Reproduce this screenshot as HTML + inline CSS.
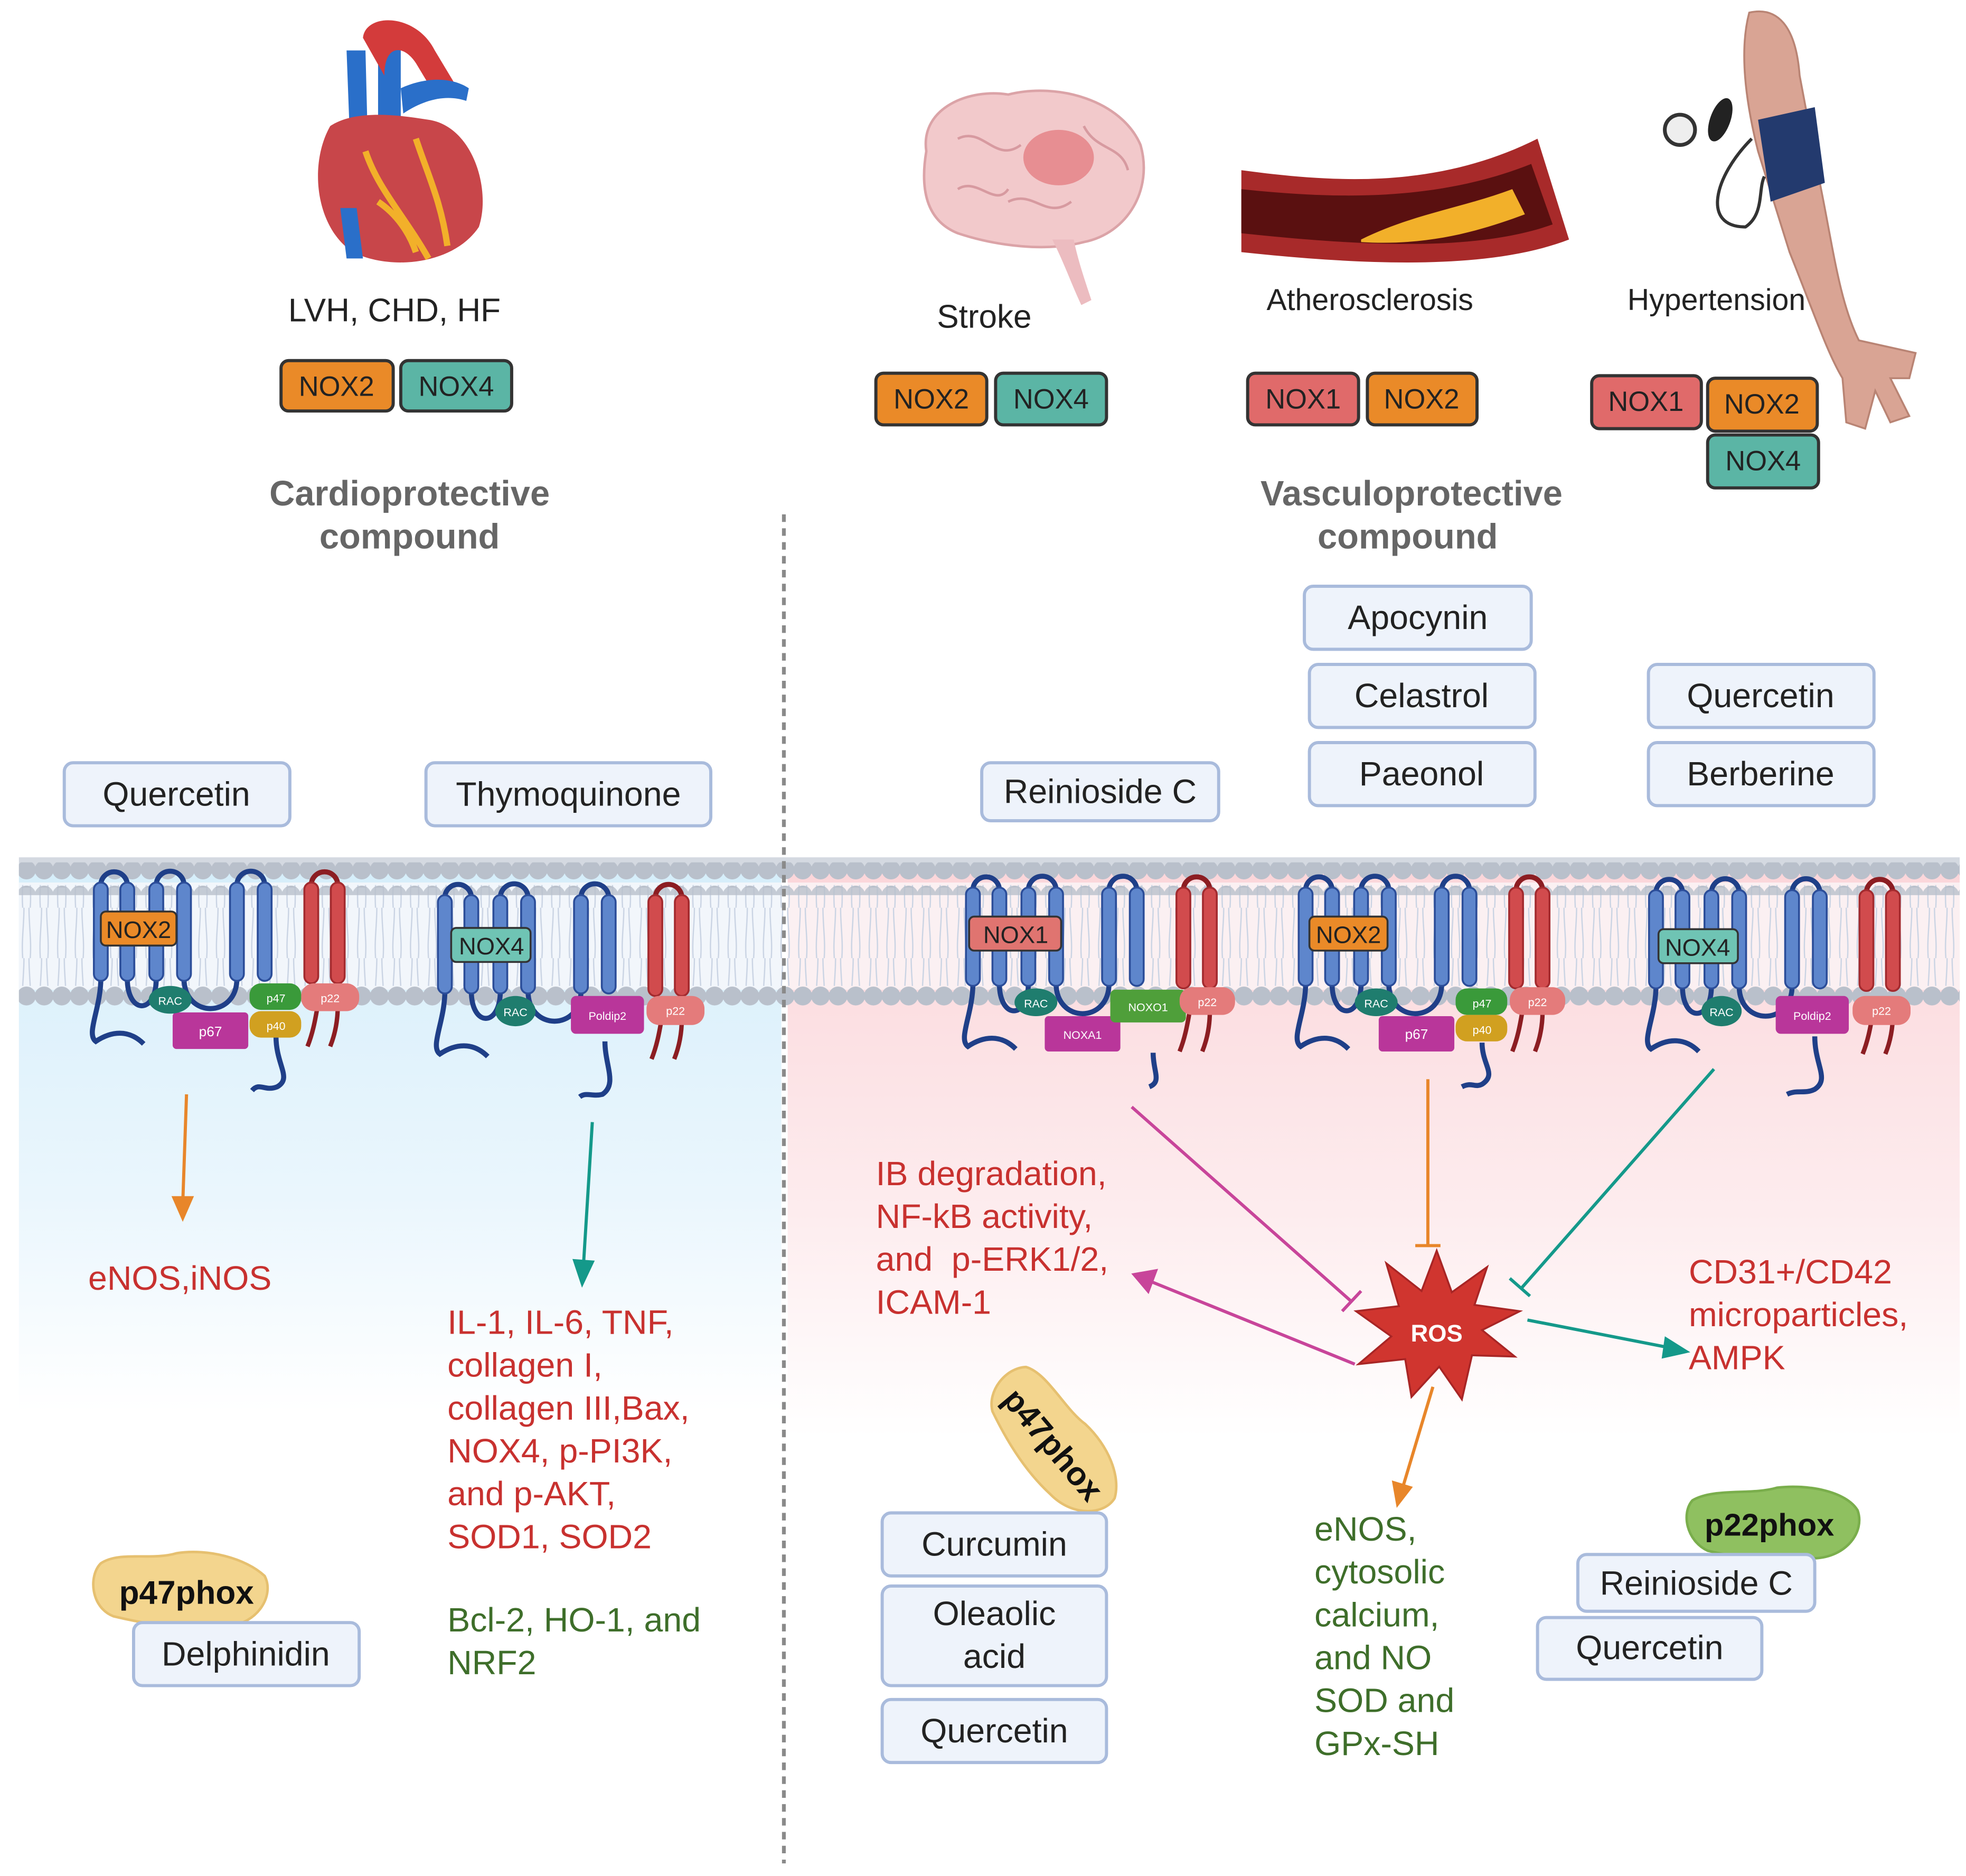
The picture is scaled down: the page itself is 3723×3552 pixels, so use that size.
<!DOCTYPE html>
<html><head><meta charset="utf-8"><style>
html,body{margin:0;padding:0;background:#fff;}
svg{display:block;}
text{font-family:"Liberation Sans",sans-serif;}
</style></head><body>
<svg width="3723" height="3552" viewBox="0 0 1560 1488" preserveAspectRatio="none" xmlns="http://www.w3.org/2000/svg">
<defs>
<linearGradient id="gb" x1="0" y1="0" x2="0" y2="1"><stop offset="0" stop-color="#d6eefa"/><stop offset="0.6" stop-color="#eaf6fd"/><stop offset="1" stop-color="#ffffff"/></linearGradient>
<linearGradient id="gp" x1="0" y1="0" x2="0" y2="1"><stop offset="0" stop-color="#fbd6da"/><stop offset="0.6" stop-color="#fdecee"/><stop offset="1" stop-color="#ffffff"/></linearGradient>
<pattern id="heads" x="0" y="0" width="14" height="20" patternUnits="userSpaceOnUse"><circle cx="7" cy="10" r="7.5" fill="#b9c0cb"/></pattern>
<pattern id="tails" x="0" y="0" width="14" height="40" patternUnits="userSpaceOnUse"><path d="M5,0 C5,15 3,25 4,40 M9,0 C9,15 11,25 10,40" stroke="#c9d3e3" stroke-width="1" fill="none"/></pattern>
<g id="nox">
 <path d="M0,776 V702 A10.5,10.5 0 0 1 21,702 V776 M44,776 V702 A11,11 0 0 1 66,702 V776 M108,776 V702 A11,11 0 0 1 130,702 V776 M21,776 C21,805 44,805 44,776 M66,776 C66,808 108,808 108,776 M0,776 C0,800 -12,820 -4,826 C8,818 22,816 34,828" stroke="#1f3f88" stroke-width="4" fill="none"/>
 <g stroke="#2b4d99" stroke-width="1.5" fill="#5e86cc">
  <rect x="-5.5" y="700" width="11" height="78" rx="5.5"/><rect x="15.5" y="700" width="11" height="78" rx="5.5"/>
  <rect x="38.5" y="700" width="11" height="78" rx="5.5"/><rect x="60.5" y="700" width="11" height="78" rx="5.5"/>
  <rect x="102.5" y="700" width="11" height="78" rx="5.5"/><rect x="124.5" y="700" width="11" height="78" rx="5.5"/>
 </g>
 <path d="M167,776 V702 A10.5,10.5 0 0 1 188,702 V776" stroke="#8c1d22" stroke-width="4" fill="none"/>
 <path d="M172,798 C170,810 168,820 164,830 M188,798 C188,810 186,820 182,830" stroke="#8c1d22" stroke-width="3.5" fill="none"/>
 <g stroke="#a32a2e" stroke-width="1.5" fill="#d14b4d"><rect x="161.5" y="700" width="11" height="80" rx="5.5"/><rect x="182.5" y="700" width="11" height="80" rx="5.5"/></g>
</g>
</defs>

<!-- backgrounds -->
<rect x="15" y="690" width="605" height="430" fill="url(#gb)"/>
<rect x="625" y="690" width="930" height="450" fill="url(#gp)"/>
<!-- membrane -->
<rect x="15" y="700" width="605" height="85" fill="#f2f6fb"/>
<rect x="625" y="700" width="930" height="85" fill="#fbf0f2"/>
<rect x="15" y="702" width="1540" height="80" fill="url(#tails)"/>
<rect x="15" y="680" width="1540" height="12" fill="#d4d9e1"/>
<rect x="15" y="684" width="1540" height="20" fill="url(#heads)"/>
<rect x="15" y="696" width="1540" height="14" fill="url(#heads)" opacity="0.8"/>
<rect x="15" y="778" width="1540" height="20" fill="url(#heads)"/>

<line x1="622" y1="408" x2="622" y2="1478" stroke="#8a8a8a" stroke-width="3" stroke-dasharray="6,5"/>

<!-- complexes -->
<use href="#nox" transform="translate(80,0)"/>
<use href="#nox" transform="translate(353,10)"/>
<use href="#nox" transform="translate(772,4)"/>
<use href="#nox" transform="translate(1036,4)"/>
<use href="#nox" transform="translate(1314,6)"/>

<g font-size="9" fill="#fff" text-anchor="middle">
<!-- complex 1 -->
<path d="M219,822 C219,845 232,855 220,862 C210,866 206,858 200,865" stroke="#1f3f88" stroke-width="4" fill="none"/>
<rect x="137" y="803" width="60" height="29" rx="3" fill="#b9369a"/><text x="167" y="822" font-size="11">p67</text>
<ellipse cx="135" cy="793" rx="17" ry="11" fill="#1f7d6e"/><text x="135" y="797">RAC</text>
<rect x="198" y="780" width="41" height="21" rx="9" fill="#3a9a3a"/><text x="219" y="795">p47</text>
<rect x="198" y="802" width="41" height="21" rx="9" fill="#d1a020"/><text x="219" y="817">p40</text>
<rect x="239" y="780" width="46" height="22" rx="10" fill="#e47b7b"/><text x="262" y="795">p22</text>
<rect x="80" y="723" width="60" height="27" rx="4" fill="#ea8a28" stroke="#333" stroke-width="1.5"/><text x="110" y="744" font-size="19" fill="#222">NOX2</text>
<!-- complex 2 -->
<path d="M480,826 C480,845 490,860 478,868 C470,870 465,866 460,870" stroke="#1f3f88" stroke-width="4" fill="none"/>
<ellipse cx="409" cy="802" rx="16" ry="12" fill="#1f7d6e"/><text x="409" y="806">RAC</text>
<rect x="453" y="790" width="58" height="30" rx="4" fill="#b9369a"/><text x="482" y="809">Poldip2</text>
<rect x="513" y="790" width="46" height="23" rx="10" fill="#e47b7b"/><text x="536" y="805">p22</text>
<rect x="358" y="736" width="63" height="27" rx="4" fill="#6fc4b4" stroke="#333" stroke-width="1.5"/><text x="390" y="757" font-size="19" fill="#222">NOX4</text>
<!-- complex 3 NOX1 -->
<path d="M915,835 C915,850 922,858 912,862" stroke="#1f3f88" stroke-width="4" fill="none"/>
<ellipse cx="822" cy="795" rx="17" ry="11" fill="#1f7d6e"/><text x="822" y="799">RAC</text>
<rect x="829" y="806" width="60" height="28" rx="3" fill="#b9369a"/><text x="859" y="824">NOXA1</text>
<rect x="881" y="785" width="60" height="26" rx="4" fill="#4f9f3a"/><text x="911" y="802">NOXO1</text>
<rect x="936" y="783" width="44" height="22" rx="10" fill="#e47b7b"/><text x="958" y="798">p22</text>
<rect x="769" y="727" width="73" height="27" rx="4" fill="#e07470" stroke="#333" stroke-width="1.5"/><text x="806" y="748" font-size="19" fill="#222">NOX1</text>
<!-- complex 4 NOX2 -->
<path d="M1176,827 C1176,845 1188,852 1176,860 C1170,863 1168,858 1160,862" stroke="#1f3f88" stroke-width="4" fill="none"/>
<ellipse cx="1092" cy="795" rx="17" ry="11" fill="#1f7d6e"/><text x="1092" y="799">RAC</text>
<rect x="1094" y="806" width="60" height="28" rx="3" fill="#b9369a"/><text x="1124" y="824" font-size="11">p67</text>
<rect x="1155" y="784" width="41" height="21" rx="9" fill="#3a9a3a"/><text x="1176" y="799">p47</text>
<rect x="1155" y="805" width="41" height="21" rx="9" fill="#d1a020"/><text x="1176" y="820">p40</text>
<rect x="1198" y="783" width="44" height="22" rx="10" fill="#e47b7b"/><text x="1220" y="798">p22</text>
<rect x="1039" y="727" width="62" height="27" rx="4" fill="#ea8a28" stroke="#333" stroke-width="1.5"/><text x="1070" y="748" font-size="19" fill="#222">NOX2</text>
<!-- complex 5 NOX4 -->
<path d="M1440,822 C1440,845 1452,856 1440,864 C1432,868 1426,864 1418,868" stroke="#1f3f88" stroke-width="4" fill="none"/>
<ellipse cx="1366" cy="802" rx="16" ry="12" fill="#1f7d6e"/><text x="1366" y="806">RAC</text>
<rect x="1409" y="790" width="58" height="30" rx="4" fill="#b9369a"/><text x="1438" y="809">Poldip2</text>
<rect x="1470" y="790" width="46" height="23" rx="10" fill="#e47b7b"/><text x="1493" y="805">p22</text>
<rect x="1316" y="737" width="63" height="27" rx="4" fill="#6fc4b4" stroke="#333" stroke-width="1.5"/><text x="1347" y="758" font-size="19" fill="#222">NOX4</text>
</g>

<!-- arrows -->
<g fill="none" stroke-width="2.5">
<path d="M148,868 L145,955" stroke="#e8862a"/><path d="M138,950 L145,966 L152,950 Z" fill="#e8862a" stroke="#e8862a"/>
<path d="M470,890 L463,1003" stroke="#14998a"/><path d="M456,1000 L462,1018 L470,1001 Z" fill="#14998a" stroke="#14998a"/>
<path d="M898,878 L1072,1032 M1065,1040 L1080,1024" stroke="#c8459a"/>
<path d="M1133,856 L1133,988 M1123,988 L1143,988" stroke="#e8862a"/>
<path d="M1360,848 L1207,1022 M1198,1014 L1214,1028" stroke="#14998a"/>
<path d="M1075,1082 L912,1016" stroke="#c8459a"/><path d="M900,1011 L917,1008 L911,1024 Z" fill="#c8459a" stroke="#c8459a"/>
<path d="M1212,1047 L1325,1069" stroke="#14998a"/><path d="M1338,1072 L1322,1062 L1320,1076 Z" fill="#14998a" stroke="#14998a"/>
<path d="M1137,1100 L1113,1180" stroke="#e8862a"/><path d="M1109,1193 L1106,1176 L1119,1180 Z" fill="#e8862a" stroke="#e8862a"/>
</g>
<!-- ROS star -->
<polygon points="1140,992 1152,1025 1180,1005 1170,1035 1206,1040 1176,1055 1202,1076 1168,1075 1160,1110 1142,1084 1120,1108 1115,1078 1078,1082 1104,1060 1076,1040 1110,1036 1100,1002 1128,1024" fill="#d0352f" stroke="#a82525" stroke-width="1.5"/>
<text x="1140" y="1064" font-size="19" font-weight="bold" fill="#fff" text-anchor="middle">ROS</text>

<!-- illustrations -->
<!-- heart -->
<g>
<path d="M300,20 L300,100 L318,100 L318,20 Z" fill="#2a6fc9"/>
<path d="M288,30 C290,10 330,10 345,40 L360,65 L345,75 L330,50 C320,35 305,35 305,60 Z" fill="#d33b3b"/>
<path d="M275,40 L278,120 L292,120 L290,40 Z" fill="#2a6fc9"/>
<path d="M318,70 C340,60 360,62 372,70 L370,80 C355,75 338,78 320,90 Z" fill="#2a6fc9"/>
<path d="M262,100 C245,130 250,180 280,200 C310,215 360,210 380,180 C390,150 375,100 340,95 C310,90 280,88 262,100 Z" fill="#c8464a"/>
<path d="M290,120 C300,150 320,170 340,205 M330,110 C340,140 350,160 355,195 M300,160 C315,170 325,185 330,200" stroke="#f2b02a" stroke-width="5" fill="none"/>
<path d="M270,165 L275,205 L288,205 L283,165 Z" fill="#2a6fc9"/>
</g>
<!-- brain -->
<g>
<path d="M735,120 C730,85 770,70 800,75 C840,65 890,80 905,115 C915,150 895,185 860,192 C830,200 790,195 760,185 C735,175 730,150 735,120 Z" fill="#f2c9cb" stroke="#dba3a7" stroke-width="2"/>
<ellipse cx="840" cy="125" rx="28" ry="22" fill="#e0676d" opacity="0.6"/>
<path d="M760,110 C780,100 790,130 810,115 M800,160 C820,150 830,175 850,160 M860,100 C870,120 890,115 895,135 M760,150 C775,140 790,165 800,150" stroke="#d79aa0" stroke-width="2" fill="none"/>
<path d="M835,190 C845,210 850,225 858,242 L866,238 C860,220 855,205 852,190 Z" fill="#ecbcc0"/>
</g>
<!-- artery -->
<g>
<path d="M985,135 C1060,145 1140,150 1220,110 L1245,190 C1180,215 1080,210 985,200 Z" fill="#a82a2a"/>
<path d="M985,150 C1060,158 1140,160 1215,130 L1232,178 C1170,200 1080,195 985,185 Z" fill="#5a1010"/>
<path d="M1080,190 C1120,170 1160,165 1200,150 L1210,170 C1170,185 1130,195 1080,192 Z" fill="#f2b02a"/>
</g>
<!-- arm -->
<g>
<path d="M1388,10 C1410,5 1425,20 1428,60 L1445,150 C1455,200 1460,240 1475,270 L1520,280 L1515,300 L1500,300 L1515,330 L1500,335 L1488,310 L1480,340 L1465,335 L1462,300 C1450,280 1440,250 1420,200 L1395,120 C1385,80 1380,40 1388,10 Z" fill="#d9a494" stroke="#b98474" stroke-width="1.5"/>
<path d="M1395,95 L1440,85 L1448,145 L1405,160 Z" fill="#233a6e"/>
<path d="M1390,110 C1360,140 1350,180 1385,180 C1400,170 1395,150 1400,140" stroke="#333" stroke-width="2.5" fill="none"/>
<circle cx="1333" cy="103" r="12" fill="#eee" stroke="#333" stroke-width="3"/>
<ellipse cx="1365" cy="95" rx="8" ry="18" fill="#222" transform="rotate(20 1365 95)"/>
</g>

<!-- top labels -->
<g font-size="26" fill="#222" text-anchor="middle">
<text x="313" y="255">LVH, CHD, HF</text>
<text x="781" y="260">Stroke</text>
<text x="1087" y="246" font-size="24">Atherosclerosis</text>
<text x="1362" y="246" font-size="24">Hypertension</text>
</g>
<g stroke="#333" stroke-width="2.5" font-size="22" text-anchor="middle">
<rect x="223" y="286" width="89" height="40" rx="6" fill="#ea8a28"/><text x="267" y="314" fill="#222" stroke="none">NOX2</text>
<rect x="318" y="286" width="88" height="40" rx="6" fill="#5bb5a5"/><text x="362" y="314" fill="#222" stroke="none">NOX4</text>
<rect x="695" y="296" width="88" height="41" rx="6" fill="#ea8a28"/><text x="739" y="324" fill="#222" stroke="none">NOX2</text>
<rect x="790" y="296" width="88" height="41" rx="6" fill="#5bb5a5"/><text x="834" y="324" fill="#222" stroke="none">NOX4</text>
<rect x="990" y="296" width="88" height="41" rx="6" fill="#e06a6a"/><text x="1034" y="324" fill="#222" stroke="none">NOX1</text>
<rect x="1085" y="296" width="87" height="41" rx="6" fill="#ea8a28"/><text x="1128" y="324" fill="#222" stroke="none">NOX2</text>
<rect x="1263" y="298" width="87" height="42" rx="6" fill="#e06a6a"/><text x="1306" y="326" fill="#222" stroke="none">NOX1</text>
<rect x="1355" y="300" width="87" height="42" rx="6" fill="#ea8a28"/><text x="1398" y="328" fill="#222" stroke="none">NOX2</text>
<rect x="1355" y="345" width="88" height="42" rx="6" fill="#5bb5a5"/><text x="1399" y="373" fill="#222" stroke="none">NOX4</text>
</g>

<g font-size="28" font-weight="bold" fill="#666" text-anchor="middle">
<text x="325" y="401">Cardioprotective</text><text x="325" y="435">compound</text>
<text x="1120" y="401">Vasculoprotective</text><text x="1117" y="435">compound</text>
</g>

<!-- blobs -->
<g font-weight="bold" font-size="26" fill="#111" text-anchor="middle">
<path d="M80,1240 C95,1230 120,1238 140,1232 C165,1228 195,1236 210,1250 C218,1265 205,1288 180,1290 C150,1294 115,1288 90,1282 C72,1275 70,1250 80,1240 Z" fill="#f3d58e" stroke="#e6c070" stroke-width="2"/>
<text x="148" y="1272">p47phox</text>
<g transform="rotate(50 835 1145)">
<path d="M775,1122 C790,1112 820,1120 840,1115 C865,1112 890,1120 900,1135 C905,1150 890,1170 865,1172 C835,1176 805,1170 785,1165 C770,1158 765,1135 775,1122 Z" fill="#f3d58e" stroke="#e6c070" stroke-width="2"/>
<text x="836" y="1154">p47phox</text>
</g>
<path d="M1343,1190 C1360,1180 1390,1186 1410,1180 C1435,1177 1465,1183 1474,1198 C1480,1215 1465,1235 1440,1236 C1410,1240 1380,1236 1355,1230 C1338,1222 1334,1200 1343,1190 Z" fill="#8fc060" stroke="#7aae4c" stroke-width="2"/>
<text x="1404" y="1218" font-size="25">p22phox</text>
</g>

<!-- compound boxes -->
<g fill="#eef3fb" stroke="#a9bbdc" stroke-width="2.5">
<rect x="1035" y="465" width="180" height="50" rx="7"/>
<rect x="1039" y="527" width="179" height="50" rx="7"/>
<rect x="1039" y="589" width="179" height="50" rx="7"/>
<rect x="1308" y="527" width="179" height="50" rx="7"/>
<rect x="1308" y="589" width="179" height="50" rx="7"/>
<rect x="779" y="605" width="188" height="46" rx="7"/>
<rect x="51" y="605" width="179" height="50" rx="7"/>
<rect x="338" y="605" width="226" height="50" rx="7"/>
<rect x="700" y="1200" width="178" height="50" rx="7"/>
<rect x="700" y="1258" width="178" height="79" rx="7"/>
<rect x="700" y="1348" width="178" height="50" rx="7"/>
<rect x="1252" y="1233" width="188" height="45" rx="7"/>
<rect x="1220" y="1283" width="178" height="49" rx="7"/>
<rect x="106" y="1287" width="179" height="50" rx="7"/>
</g>
<g font-size="27" fill="#222" text-anchor="middle">
<text x="1125" y="499">Apocynin</text>
<text x="1128" y="561">Celastrol</text>
<text x="1128" y="623">Paeonol</text>
<text x="1397" y="561">Quercetin</text>
<text x="1397" y="623">Berberine</text>
<text x="873" y="637">Reinioside C</text>
<text x="140" y="639">Quercetin</text>
<text x="451" y="639">Thymoquinone</text>
<text x="789" y="1234">Curcumin</text>
<text x="789" y="1289">Oleaolic</text><text x="789" y="1323">acid</text>
<text x="789" y="1382">Quercetin</text>
<text x="1346" y="1265">Reinioside C</text>
<text x="1309" y="1316">Quercetin</text>
<text x="195" y="1321">Delphinidin</text>
</g>

<!-- effect text -->
<g font-size="27" fill="#c8312f">
<text x="70" y="1023">eNOS,iNOS</text>
<text x="355" y="1058"> IL-1, IL-6, TNF,</text>
<text x="355" y="1092">collagen I,</text>
<text x="355" y="1126">collagen III,Bax,</text>
<text x="355" y="1160">NOX4, p-PI3K,</text>
<text x="355" y="1194">and p-AKT,</text>
<text x="355" y="1228">SOD1, SOD2</text>
<text x="695" y="940">IB degradation,</text>
<text x="695" y="974">NF-kB activity,</text>
<text x="695" y="1008" xml:space="preserve">and  p-ERK1/2,</text>
<text x="695" y="1042">ICAM-1</text>
<text x="1340" y="1018">CD31+/CD42</text>
<text x="1340" y="1052">microparticles,</text>
<text x="1340" y="1086">AMPK</text>
</g>
<g font-size="27" fill="#3e6e2a">
<text x="355" y="1294">Bcl-2, HO-1, and</text>
<text x="355" y="1328">NRF2</text>
<text x="1043" y="1222">eNOS,</text>
<text x="1043" y="1256">cytosolic</text>
<text x="1043" y="1290">calcium,</text>
<text x="1043" y="1324">and NO</text>
<text x="1043" y="1358">SOD and</text>
<text x="1043" y="1392">GPx-SH</text>
</g>
</svg>
</body></html>
